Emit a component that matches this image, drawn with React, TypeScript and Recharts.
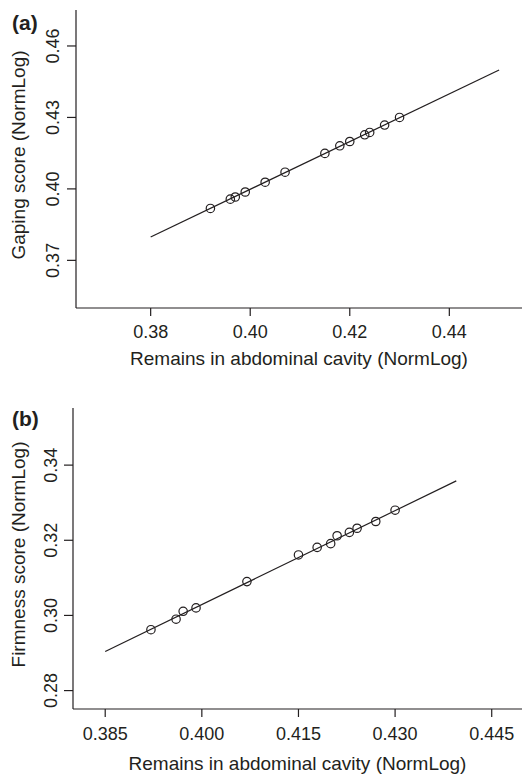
import { ScatterChart, Scatter, XAxis, YAxis, ReferenceLine, Label } from "recharts";

const INK = "#231f20";
const FONT = "'Liberation Sans', Arial, Helvetica, sans-serif";

// (a) gaping vs remains in abdominal cavity
const gapingX = [0.392, 0.396, 0.397, 0.399, 0.403, 0.407, 0.415, 0.418, 0.42, 0.423, 0.424, 0.427, 0.43];
const gapingY = [0.3918, 0.3957, 0.3966, 0.3987, 0.4028, 0.407, 0.4149, 0.4181, 0.4199, 0.4227, 0.4237, 0.4268, 0.43];
const gapingFit = [
  { x: 0.38, y: 0.3798 },
  { x: 0.45, y: 0.4499 },
];
const gapingXTicks = [0.38, 0.4, 0.42, 0.44];
const gapingYTicks = [0.37, 0.4, 0.43, 0.46];

// (b) firmness vs remains in abdominal cavity
const firmX = [0.3921, 0.396, 0.3971, 0.3991, 0.407, 0.415, 0.4179, 0.42, 0.421, 0.4229, 0.4241, 0.427, 0.43];
const firmY = [0.2962, 0.299, 0.3011, 0.302, 0.309, 0.3161, 0.3181, 0.3191, 0.3212, 0.3221, 0.3232, 0.325, 0.328];
const firmFit = [
  { x: 0.385, y: 0.2904 },
  { x: 0.4395, y: 0.3358 },
];
const firmXTicks = [0.385, 0.4, 0.415, 0.43, 0.445];
const firmYTicks = [0.28, 0.3, 0.32, 0.34];

const xTitle = "Remains in abdominal cavity (NormLog)";

function toPoints(xs: number[], ys: number[]) {
  return xs.map((x, i) => ({ x, y: ys[i] }));
}

function OpenCircle(props: any) {
  const { cx, cy } = props;
  if (cx == null || cy == null) return null;
  return <circle cx={cx} cy={cy} r={4.2} fill="none" stroke={INK} strokeWidth={1.2} />;
}

function makeYTick(digits: number) {
  return (props: any) => {
    const { x, y, payload } = props;
    return (
      <text
        x={x}
        y={y}
        transform={`rotate(-90, ${x}, ${y})`}
        textAnchor="middle"
        fill={INK}
        fontSize={18}
        fontFamily={FONT}
      >
        {Number(payload.value).toFixed(digits)}
      </text>
    );
  };
}

function xTitleContent(baselineFromAxis: number) {
  return (props: any) => {
    const vb = props.viewBox || {};
    return (
      <text
        x={vb.x + vb.width / 2}
        y={vb.y + baselineFromAxis}
        textAnchor="middle"
        fill={INK}
        fontSize={19}
        fontFamily={FONT}
      >
        {xTitle}
      </text>
    );
  };
}

function yTitleContent(text: string, baselineX: number, dy: number) {
  return (props: any) => {
    const vb = props.viewBox || {};
    const cy = vb.y + vb.height / 2 + dy;
    return (
      <text
        x={baselineX}
        y={cy}
        transform={`rotate(-90, ${baselineX}, ${cy})`}
        textAnchor="middle"
        fill={INK}
        fontSize={19}
        fontFamily={FONT}
      >
        {text}
      </text>
    );
  };
}

type PanelProps = {
  height: number;
  top: number;
  yAxisWidth: number;
  xAxisHeight: number;
  xDomain: [number, number];
  yDomain: [number, number];
  xTicks: number[];
  yTicks: number[];
  xDigits: number;
  xTickMargin: number;
  yTickMargin: number;
  titleBaseline: number;
  yTitle: string;
  yTitleX: number;
  yTitleDy: number;
  points: { x: number; y: number }[];
  fit: { x: number; y: number }[];
};

function Panel(p: PanelProps) {
  const tickText = { fill: INK, fontSize: 18, fontFamily: FONT };
  return (
    <ScatterChart width={522} height={p.height} margin={{ top: p.top, right: 0, bottom: 0, left: 0 }}>
      <XAxis
        type="number"
        dataKey="x"
        domain={p.xDomain}
        ticks={p.xTicks}
        allowDataOverflow
        height={p.xAxisHeight}
        tickSize={8}
        tickMargin={p.xTickMargin}
        tick={tickText}
        tickFormatter={(v: number) => v.toFixed(p.xDigits)}
        stroke={INK}
        axisLine={{ stroke: INK, strokeWidth: 1.2 }}
        tickLine={{ stroke: INK, strokeWidth: 1.2 }}
      >
        <Label content={xTitleContent(p.titleBaseline)} />
      </XAxis>
      <YAxis
        type="number"
        dataKey="y"
        domain={p.yDomain}
        ticks={p.yTicks}
        allowDataOverflow
        width={p.yAxisWidth}
        tickSize={9}
        tickMargin={p.yTickMargin}
        tick={makeYTick(2)}
        stroke={INK}
        axisLine={{ stroke: INK, strokeWidth: 1.2 }}
        tickLine={{ stroke: INK, strokeWidth: 1.2 }}
      >
        <Label content={yTitleContent(p.yTitle, p.yTitleX, p.yTitleDy)} />
      </YAxis>
      <ReferenceLine
        segment={p.fit}
        stroke={INK}
        strokeWidth={1.2}
        ifOverflow="visible"
      />
      <Scatter data={p.points} shape={<OpenCircle />} isAnimationActive={false} />
    </ScatterChart>
  );
}

const panelLetter: React.CSSProperties = {
  position: "absolute",
  left: 12,
  fontFamily: FONT,
  fontWeight: "bold",
  fontSize: 21,
  color: INK,
  lineHeight: 1,
};

export default function App() {
  return (
    <div style={{ position: "absolute", left: 0, top: 0, width: 522, height: 775, background: "#fff", overflow: "hidden" }}>
      <div style={{ position: "absolute", left: 0, top: 0 }}>
        <Panel
          height={390}
          top={10}
          yAxisWidth={76}
          xAxisHeight={82}
          xDomain={[0.365, 0.4546]}
          yDomain={[0.35, 0.4751]}
          xTicks={gapingXTicks}
          yTicks={gapingYTicks}
          xDigits={2}
          xTickMargin={9}
          yTickMargin={8}
          titleBaseline={57}
          yTitle="Gaping score (NormLog)"
          yTitleX={25}
          yTitleDy={-4}
          points={toPoints(gapingX, gapingY)}
          fit={gapingFit}
        />
      </div>
      <div style={{ position: "absolute", left: 0, top: 390 }}>
        <Panel
          height={385}
          top={18}
          yAxisWidth={73}
          xAxisHeight={66}
          xDomain={[0.38, 0.4497]}
          yDomain={[0.2751, 0.3552]}
          xTicks={firmXTicks}
          yTicks={firmYTicks}
          xDigits={3}
          xTickMargin={10}
          yTickMargin={7}
          titleBaseline={61}
          yTitle="Firmness score (NormLog)"
          yTitleX={25}
          yTitleDy={-4}
          points={toPoints(firmX, firmY)}
          fit={firmFit}
        />
      </div>
      <div style={{ ...panelLetter, top: 12 }}>(a)</div>
      <div style={{ ...panelLetter, top: 408 }}>(b)</div>
    </div>
  );
}
